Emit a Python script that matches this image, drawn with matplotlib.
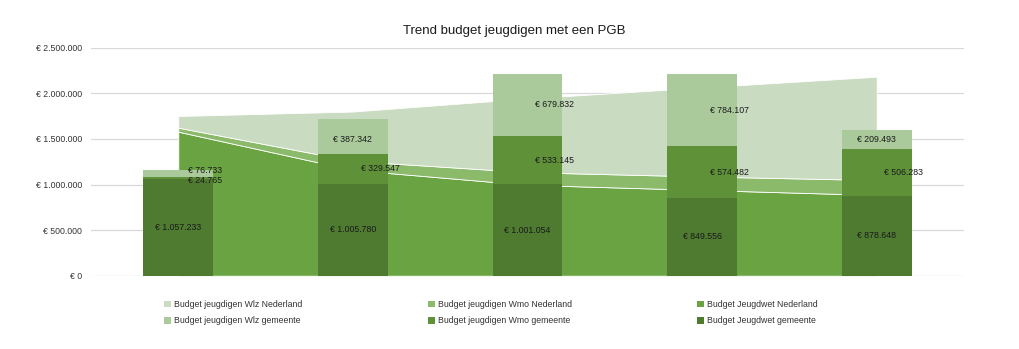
"""Trend budget jeugdigen met een PGB: landelijke trend als gestapeld vlak,
gemeentelijke budgetten als gestapelde kolommen ervoor."""

import matplotlib

matplotlib.use("Agg")
import matplotlib.pyplot as plt
from matplotlib.patches import Patch
from matplotlib.ticker import FuncFormatter

plt.rcParams["font.family"] = ["Liberation Sans", "DejaVu Sans"]

PERIODS = ["2015", "2016", "2017", "2018", "2019"]

# landelijke budgetten (vlak)
JEUGDWET_NL = [1_579_000, 1_159_000, 996_000, 940_000, 885_000]
WMO_NL = [44_000, 99_000, 139_000, 148_000, 164_000]
WLZ_NL = [128_000, 542_000, 808_000, 976_000, 1_133_000]

# gemeentelijke budgetten (kolommen)
JEUGDWET_GEM = [1_057_233, 1_005_780, 1_001_054, 849_556, 878_648]
WMO_GEM = [24_765, 329_547, 533_145, 574_482, 506_283]
WLZ_GEM = [76_733, 387_342, 679_832, 784_107, 209_493]

YTICKS = [0, 500_000, 1_000_000, 1_500_000, 2_000_000, 2_500_000]

COLORS = {
    "wlz_nl": "#c9dbc0",
    "wmo_nl": "#8bba6b",
    "jeugd_nl": "#6aa341",
    "wlz_gem": "#abca9b",
    "wmo_gem": "#5f9139",
    "jeugd_gem": "#4f7b31",
}

BAR_WIDTH = 0.4
LABEL_SHIFT = 0.155
# horizontale verschuiving van de labels (in kolombreedte-eenheden)
WMO_LABEL_DX = [LABEL_SHIFT] * 5
WLZ_LABEL_DX = [LABEL_SHIFT, 0, LABEL_SHIFT, LABEL_SHIFT, 0]
# kleine verticale correctie (punten) waar labels elkaar raken
WLZ_LABEL_DY = [2.5, -2.5, 0, 0, 0]
WMO_LABEL_DY = [-2.0, 0, 0, 0, 0]


def euro(value: float) -> str:
    return "€ " + f"{value:,.0f}".replace(",", ".")


def label_segments(ax, xs, bottoms, values, dx, dy):
    for x, b, v, shift, nudge in zip(xs, bottoms, values, dx, dy):
        ax.annotate(
            euro(v), (x + shift, b + v / 2), xytext=(0, nudge),
            textcoords="offset points", ha="center", va="center",
            fontsize=6.3, color="#1a1a1a", zorder=5,
        )


def main() -> None:
    fig = plt.figure(figsize=(10.19, 3.49), dpi=100)
    ax = fig.add_axes([0.0893, 0.21, 0.8567, 0.6533])

    xs = list(range(len(PERIODS)))
    ax.stackplot(
        xs, JEUGDWET_NL, WMO_NL, WLZ_NL,
        colors=[COLORS["jeugd_nl"], COLORS["wmo_nl"], COLORS["wlz_nl"]],
        edgecolor="white", linewidth=0.6, zorder=2,
    )

    wmo_bottom = JEUGDWET_GEM
    wlz_bottom = [a + b for a, b in zip(JEUGDWET_GEM, WMO_GEM)]
    ax.bar(xs, JEUGDWET_GEM, BAR_WIDTH, color=COLORS["jeugd_gem"], zorder=3)
    ax.bar(xs, WMO_GEM, BAR_WIDTH, bottom=wmo_bottom,
           color=COLORS["wmo_gem"], zorder=3)
    ax.bar(xs, WLZ_GEM, BAR_WIDTH, bottom=wlz_bottom,
           color=COLORS["wlz_gem"], zorder=3)

    label_segments(ax, xs, [0] * 5, JEUGDWET_GEM, [0] * 5, [0] * 5)
    label_segments(ax, xs, wmo_bottom, WMO_GEM, WMO_LABEL_DX, WMO_LABEL_DY)
    label_segments(ax, xs, wlz_bottom, WLZ_GEM, WLZ_LABEL_DX, WLZ_LABEL_DY)

    ax.set_xlim(-0.5, len(PERIODS) - 0.5)
    ax.set_ylim(0, YTICKS[-1])
    ax.set_yticks(YTICKS)
    ax.yaxis.set_major_formatter(FuncFormatter(lambda v, _: euro(v)))
    ax.tick_params(axis="y", length=0, labelsize=6.3, colors="#333333", pad=6.5)
    ax.set_xticks([])
    ax.grid(axis="y", color="#d9d9d9", linewidth=0.9, zorder=0)
    ax.set_axisbelow(True)
    for spine in ax.spines.values():
        spine.set_visible(False)

    fig.text(0.505, 0.91, "Trend budget jeugdigen met een PGB",
             ha="center", va="center", fontsize=9.5, color="#1a1a1a")

    columns = [
        (0.157, [("Budget jeugdigen Wlz Nederland", "wlz_nl"),
                 ("Budget jeugdigen Wlz gemeente", "wlz_gem")]),
        (0.416, [("Budget jeugdigen Wmo Nederland", "wmo_nl"),
                 ("Budget jeugdigen Wmo gemeente", "wmo_gem")]),
        (0.680, [("Budget Jeugdwet Nederland", "jeugd_nl"),
                 ("Budget Jeugdwet gemeente", "jeugd_gem")]),
    ]
    for x, entries in columns:
        handles = [Patch(facecolor=COLORS[key], edgecolor="none")
                   for _, key in entries]
        fig.legend(
            handles, [name for name, _ in entries],
            loc="upper left", bbox_to_anchor=(x, 0.153),
            frameon=False, fontsize=6.3, handlelength=0.8, handleheight=0.8,
            handletextpad=0.3, labelspacing=0.85, borderpad=0,
            labelcolor="#333333",
        )

    fig.savefig("out.png", dpi=100)
    plt.close(fig)


if __name__ == "__main__":
    main()
